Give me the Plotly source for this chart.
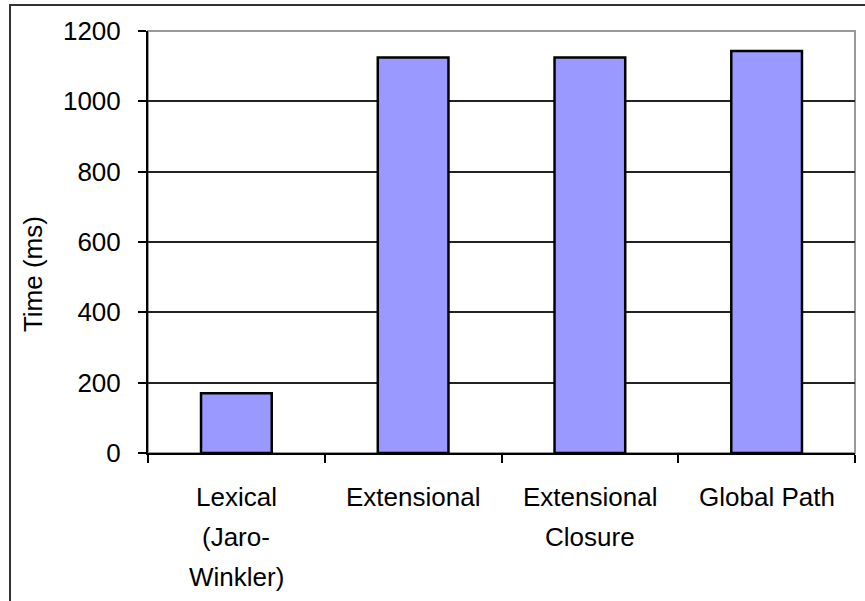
import plotly.graph_objects as go

categories = ["Lexical (Jaro-Winkler)", "Extensional", "Extensional Closure", "Global Path"]
label_lines = [["Lexical", "(Jaro-", "Winkler)"], ["Extensional"], ["Extensional", "Closure"], ["Global Path"]]
times_ms = [170, 1125, 1125, 1143]
y_ticks = [0, 200, 400, 600, 800, 1000, 1200]

FONT = "Liberation Sans, Arial, sans-serif"

fig = go.Figure()
fig.add_trace(go.Bar(
    x=categories, y=times_ms,
    marker=dict(color="#9999FF", line=dict(color="#000000", width=2.5)),
    width=0.4,
))

annotations = []
for cat, lines in zip(categories, label_lines):
    for i, ln in enumerate(lines):
        annotations.append(dict(
            x=cat, xref="x", y=0, yref="paper", yanchor="middle", xanchor="center",
            yshift=-44 - 40 * i, text=ln, showarrow=False,
            font=dict(family=FONT, size=26, color="#000000"),
        ))
annotations.append(dict(
    x=0, xref="paper", xshift=-115, y=0.424, yref="paper",
    xanchor="center", yanchor="middle", textangle=-90,
    text="Time (ms)", showarrow=False,
    font=dict(family=FONT, size=26, color="#000000"),
))

fig.update_layout(
    width=865, height=601,
    margin=dict(l=148, r=10, t=31, b=148),
    paper_bgcolor="white", plot_bgcolor="white",
    showlegend=False,
    annotations=annotations,
    shapes=[
        dict(type="rect", xref="paper", yref="paper", x0=0, x1=1, y0=0, y1=1,
             line=dict(color="#999999", width=2), layer="below"),
        dict(type="rect", xref="paper", yref="paper", x0=-138/707, x1=1.05, y0=-0.4, y1=448/422,
             line=dict(color="#333333", width=2), layer="above"),
    ],
    xaxis=dict(
        range=[-0.5, 3.5], showticklabels=False, showgrid=False,
        showline=True, linecolor="#000000", linewidth=2,
        ticks="outside", tickson="boundaries", ticklen=8, tickwidth=2, tickcolor="#000000",
        fixedrange=True,
    ),
    yaxis=dict(
        range=[0, 1200], tickvals=y_ticks,
        showgrid=True, gridcolor="#222222", gridwidth=1.5,
        showline=True, linecolor="#000000", linewidth=2,
        ticks="outside", ticklen=8, tickwidth=2, tickcolor="#000000",
        ticklabelstandoff=12,
        tickfont=dict(family=FONT, size=26, color="#000000"),
        zeroline=False, automargin=False,
    ),
)

fig.write_html("out.html", config={"displayModeBar": False},
               post_script="document.body.style.margin='0';")
